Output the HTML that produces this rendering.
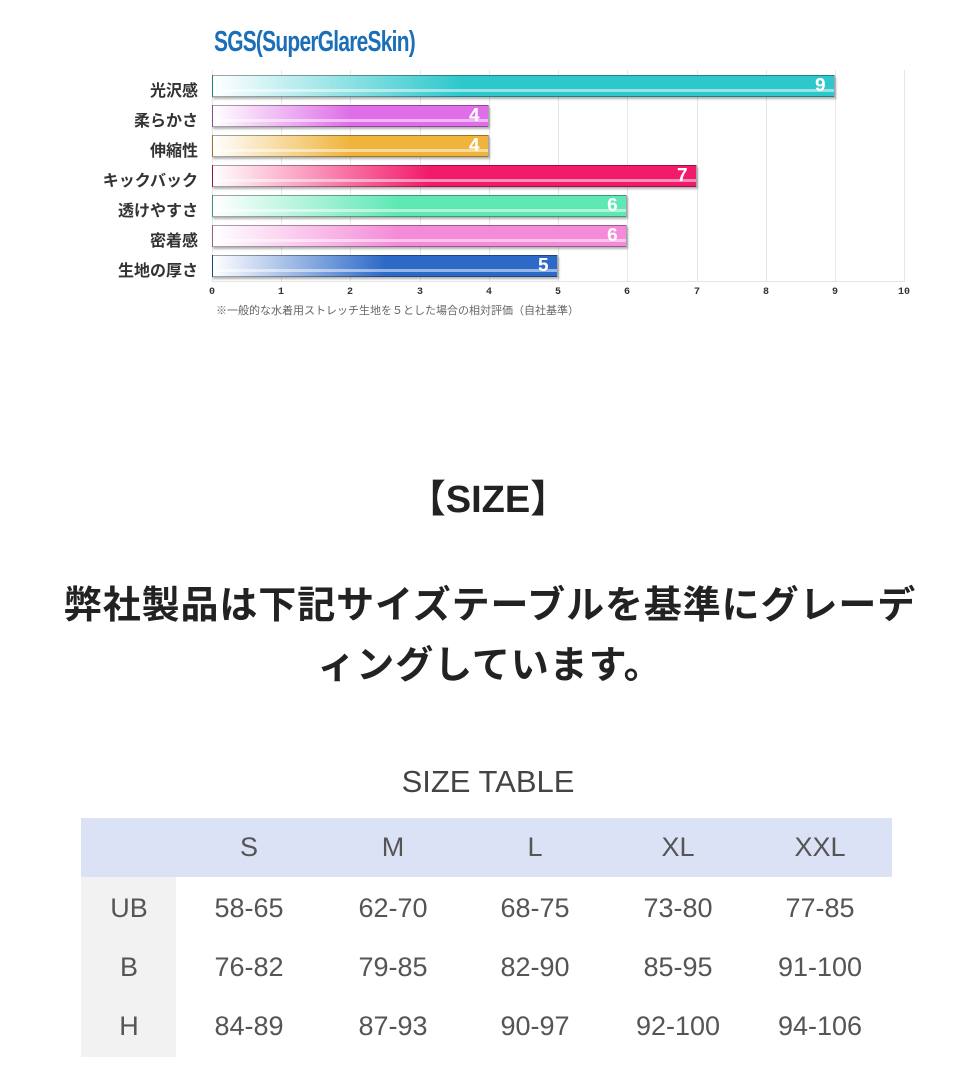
<!DOCTYPE html>
<html><head><meta charset="utf-8"><style>
body{margin:0;width:976px;height:1080px;background:#fff;position:relative;overflow:hidden;font-family:"Liberation Sans","Noto Sans CJK JP",sans-serif}
.a{position:absolute}
.lbl{position:absolute;right:778px;font-weight:bold;font-size:16px;color:#333;white-space:nowrap}
.bar{position:absolute;left:212px;height:22px;border:1px solid rgba(0,0,0,.35);box-shadow:1px 2px 2px rgba(0,0,0,.3);box-sizing:border-box}
.bar span{position:absolute;right:8px;top:-1px;color:#fff;font-weight:bold;font-size:19px;font-family:"Liberation Mono",monospace}
.bar:after{content:"";position:absolute;left:0;right:0;top:13px;height:3px;background:rgba(255,255,255,.5)}
.g{position:absolute;top:70px;height:212px;width:1px;background:#e6e6e6}
.t{position:absolute;top:287px;font-size:10px;color:#333;font-family:"Liberation Mono",monospace;transform:translateX(-50%);font-weight:bold}
.c{position:absolute;font-size:27px;color:#555;transform:translateX(-50%);white-space:nowrap}
</style></head><body>
<div class="a" style="left:214px;top:26px;font-size:29px;font-weight:bold;color:#1a6fb8;letter-spacing:-1px;transform:scaleX(.72);transform-origin:left;white-space:nowrap">SGS(SuperGlareSkin)</div>
<div class="g" style="left:212px"></div><div class="g" style="left:281px"></div><div class="g" style="left:350px"></div><div class="g" style="left:420px"></div><div class="g" style="left:489px"></div><div class="g" style="left:558px"></div><div class="g" style="left:627px"></div><div class="g" style="left:697px"></div><div class="g" style="left:766px"></div><div class="g" style="left:835px"></div><div class="g" style="left:904px"></div>
<div class="a" style="left:212px;top:281px;width:693px;height:1px;background:#e6e6e6"></div>

<div class="lbl" style="top:77px">光沢感</div>
<div class="bar" style="top:75px;width:623px;background:linear-gradient(90deg,#fff,#2ec8cc 40%,#2ec8cc)"><span>9</span></div>
<div class="lbl" style="top:107px">柔らかさ</div>
<div class="bar" style="top:105px;width:277px;background:linear-gradient(90deg,#fff,#df6ee8 50%,#df6ee8)"><span>4</span></div>
<div class="lbl" style="top:137px">伸縮性</div>
<div class="bar" style="top:135px;width:277px;background:linear-gradient(90deg,#fff,#f0b43c 50%,#f0b43c)"><span>4</span></div>
<div class="lbl" style="top:167px">キックバック</div>
<div class="bar" style="top:165px;width:485px;background:linear-gradient(90deg,#fff,#f21a6a 45%,#f21a6a)"><span>7</span></div>
<div class="lbl" style="top:197px">透けやすさ</div>
<div class="bar" style="top:195px;width:415px;background:linear-gradient(90deg,#fff,#5ee8b4 45%,#5ee8b4)"><span>6</span></div>
<div class="lbl" style="top:227px">密着感</div>
<div class="bar" style="top:225px;width:415px;background:linear-gradient(90deg,#fff,#f58ad8 45%,#f58ad8)"><span>6</span></div>
<div class="lbl" style="top:257px">生地の厚さ</div>
<div class="bar" style="top:255px;width:346px;background:linear-gradient(90deg,#fff,#2d6ac8 50%,#2d6ac8)"><span>5</span></div>

<div class="t" style="left:212px">0</div><div class="t" style="left:281px">1</div><div class="t" style="left:350px">2</div><div class="t" style="left:420px">3</div><div class="t" style="left:489px">4</div><div class="t" style="left:558px">5</div><div class="t" style="left:627px">6</div><div class="t" style="left:697px">7</div><div class="t" style="left:766px">8</div><div class="t" style="left:835px">9</div><div class="t" style="left:904px">10</div>
<div class="a" style="left:216px;top:302px;font-size:11px;color:#666;white-space:nowrap">※一般的な水着用ストレッチ生地を５とした場合の相対評価（自社基準）</div>

<div class="a" style="left:0;width:976px;top:468px;text-align:center;font-size:38px;font-weight:bold;color:#222">【SIZE】</div>
<div class="a" style="left:58px;width:864px;top:576px;text-align:center;font-size:38px;letter-spacing:0.9px;font-weight:bold;color:#222;line-height:60px">弊社製品は下記サイズテーブルを基準にグレーディングしています。</div>

<div class="a" style="left:0;width:976px;top:764px;text-align:center;font-size:31px;color:#444">SIZE TABLE</div>
<div class="a" style="left:81px;top:818px;width:811px;height:59px;background:#dbe2f6"></div>
<div class="a" style="left:81px;top:877px;width:95px;height:180px;background:#f2f2f2"></div>
<div class="c" style="left:249px;top:832px">S</div><div class="c" style="left:393px;top:832px">M</div><div class="c" style="left:535px;top:832px">L</div><div class="c" style="left:678px;top:832px">XL</div><div class="c" style="left:820px;top:832px">XXL</div>
<div class="c" style="left:129px;top:893px">UB</div><div class="c" style="left:249px;top:893px">58-65</div><div class="c" style="left:393px;top:893px">62-70</div><div class="c" style="left:535px;top:893px">68-75</div><div class="c" style="left:678px;top:893px">73-80</div><div class="c" style="left:820px;top:893px">77-85</div>
<div class="c" style="left:129px;top:952px">B</div><div class="c" style="left:249px;top:952px">76-82</div><div class="c" style="left:393px;top:952px">79-85</div><div class="c" style="left:535px;top:952px">82-90</div><div class="c" style="left:678px;top:952px">85-95</div><div class="c" style="left:820px;top:952px">91-100</div>
<div class="c" style="left:129px;top:1011px">H</div><div class="c" style="left:249px;top:1011px">84-89</div><div class="c" style="left:393px;top:1011px">87-93</div><div class="c" style="left:535px;top:1011px">90-97</div><div class="c" style="left:678px;top:1011px">92-100</div><div class="c" style="left:820px;top:1011px">94-106</div>
</body></html>
